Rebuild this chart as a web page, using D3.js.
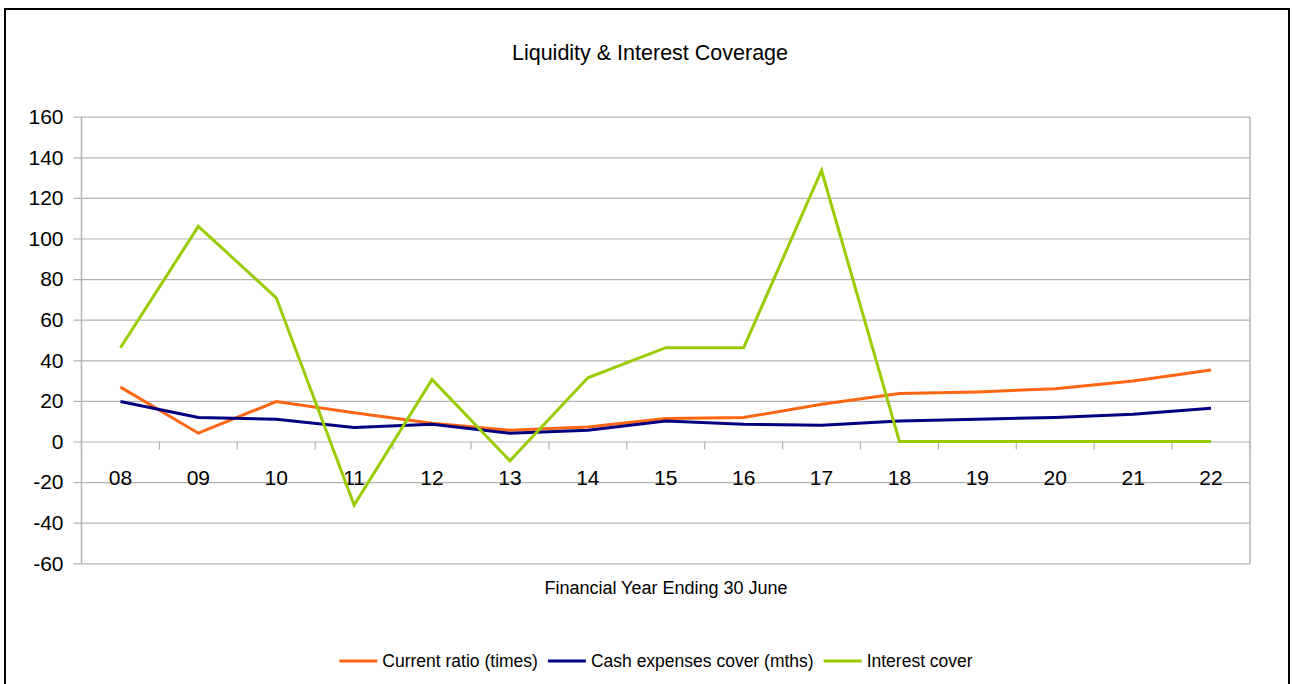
<!DOCTYPE html>
<html>
<head>
<meta charset="utf-8">
<script src="https://cdn.jsdelivr.net/npm/d3@7"></script>
<style>
  body { margin: 0; background: #fff; }
  text { font-family: "Liberation Sans", Arial, sans-serif; fill: #000; }
</style>
</head>
<body>
<div id="chart"></div>
<script>
(function(){
  // categories (financial years)
  const years = ["08", "09", "10", "11", "12", "13", "14", "15", "16", "17", "18", "19", "20", "21", "22"];

  const currentRatio = [26.8, 4.1, 19.7, 14.2, 9.0, 5.5, 7.2, 11.3, 11.8, 18.3, 23.6, 24.4, 26.0, 29.8, 35.2];
  const cashCover = [19.7, 11.8, 11.0, 6.9, 8.5, 4.1, 5.5, 10.1, 8.5, 8.0, 10.1, 11.0, 11.8, 13.4, 16.4];
  const interestCover = [46.2, 106, 70.8, -31.3, 30.6, -9.5, 31.4, 46.2, 46.2, 133.5, 0, 0, 0, 0, 0];

  const yTicks = [-60, -40, -20, 0, 20, 40, 60, 80, 100, 120, 140, 160];

  const seriesNames = ["Current ratio (times)", "Cash expenses cover (mths)", "Interest cover"];
  const seriesColors = ["#ff6611", "#000080", "#99cc00"];
  const seriesValues = [currentRatio, cashCover, interestCover];

  const W = 1293, H = 684;
  const plot = { left: 81.5, right: 1250, top: 116.7, bottom: 563.3 };

  const svg = d3.select("#chart")
    .append("svg")
    .attr("width", W)
    .attr("height", H);

  // outer frame
  svg.append("rect")
    .attr("x", 5).attr("y", 9)
    .attr("width", 1284).attr("height", 700)
    .attr("fill", "none")
    .attr("stroke", "#000")
    .attr("stroke-width", 2);

  // scales
  const x = d3.scaleBand()
    .domain(years)
    .range([plot.left, plot.right])
    .padding(0);

  const y = d3.scaleLinear()
    .domain([-60, 160])
    .range([plot.bottom, plot.top]);

  // horizontal grid lines + y labels (plain hyphen for negatives)
  const gy = svg.append("g")
    .attr("transform", `translate(${plot.right},0)`)
    .call(d3.axisLeft(y)
      .tickValues(yTicks)
      .tickSize(plot.right - plot.left + 8)
      .tickPadding(10)
      .tickFormat(d => String(d)));
  gy.select(".domain").remove();
  gy.selectAll(".tick line").attr("stroke", "#b3b3b3").attr("stroke-width", 1.2);
  gy.selectAll(".tick text")
    .style("font-size", "21px")
    .style("font-family", "'Liberation Sans', Arial, sans-serif")
    .attr("fill", "#000");

  // plot borders (left axis, right edge)
  svg.append("line")
    .attr("x1", plot.left).attr("x2", plot.left)
    .attr("y1", plot.top).attr("y2", plot.bottom)
    .attr("stroke", "#b3b3b3").attr("stroke-width", 1.5);
  svg.append("line")
    .attr("x1", plot.right).attr("x2", plot.right)
    .attr("y1", plot.top).attr("y2", plot.bottom)
    .attr("stroke", "#b3b3b3").attr("stroke-width", 1.5);

  // category tick marks below the zero line
  const boundaries = years.map(d => x(d)).concat([plot.right]);
  svg.selectAll(".cat-tick")
    .data(boundaries)
    .enter()
    .append("line")
    .attr("class", "cat-tick")
    .attr("x1", d => d).attr("x2", d => d)
    .attr("y1", y(0)).attr("y2", y(0) + 8)
    .attr("stroke", "#b3b3b3").attr("stroke-width", 1.2);

  // category labels
  svg.selectAll(".cat-label")
    .data(years)
    .enter()
    .append("text")
    .attr("class", "cat-label")
    .attr("x", d => x(d) + x.bandwidth() / 2)
    .attr("y", 478)
    .attr("dy", "0.35em")
    .attr("text-anchor", "middle")
    .style("font-size", "21px")
    .text(d => d);

  // lines
  const line = d3.line()
    .x((d, i) => x(years[i]) + x.bandwidth() / 2)
    .y(d => y(d));

  seriesValues.forEach((vals, k) => {
    svg.append("path")
      .datum(vals)
      .attr("d", line)
      .attr("fill", "none")
      .attr("stroke", seriesColors[k])
      .attr("stroke-width", 3)
      .attr("stroke-linejoin", "miter");
  });

  // title
  svg.append("text")
    .attr("x", 650)
    .attr("y", 52)
    .attr("dy", "0.35em")
    .attr("text-anchor", "middle")
    .style("font-size", "21.5px")
    .text("Liquidity & Interest Coverage");

  // x axis title
  svg.append("text")
    .attr("x", 666)
    .attr("y", 588)
    .attr("dy", "0.35em")
    .attr("text-anchor", "middle")
    .style("font-size", "18px")
    .text("Financial Year Ending 30 June");

  // legend
  const legend = svg.append("g");
  let lx = 0;
  seriesNames.forEach((name, k) => {
    legend.append("line")
      .attr("x1", lx).attr("x2", lx + 38)
      .attr("y1", 0).attr("y2", 0)
      .attr("stroke", seriesColors[k])
      .attr("stroke-width", 3);
    const t = legend.append("text")
      .attr("x", lx + 43)
      .attr("y", 0)
      .attr("dy", "0.35em")
      .style("font-size", "17.5px")
      .text(name);
    lx += 43 + t.node().getComputedTextLength() + 10;
  });
  const lw = lx - 10;
  legend.attr("transform", `translate(${656 - lw / 2},661)`);
})();
</script>
</body>
</html>
